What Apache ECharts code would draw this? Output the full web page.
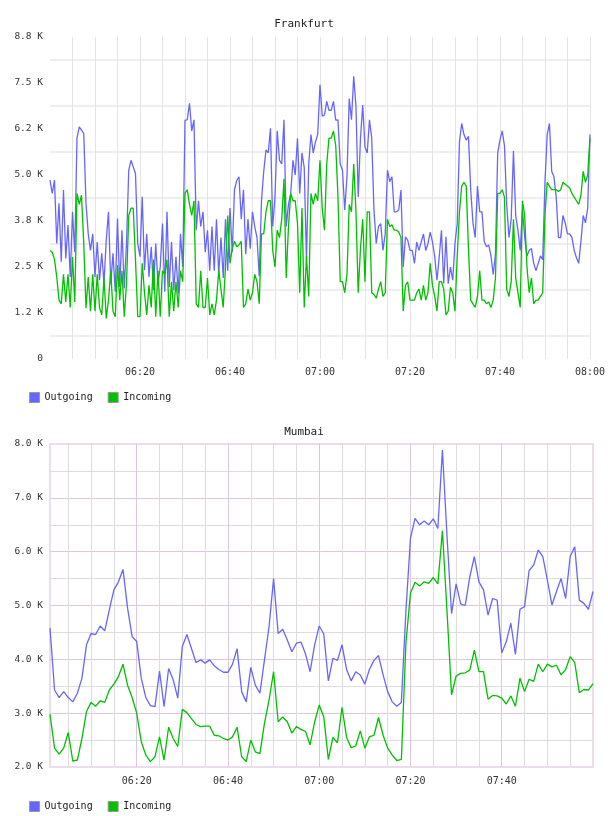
<!DOCTYPE html>
<html>
<head>
<meta charset="utf-8">
<title>Frankfurt / Mumbai traffic</title>
<script src="https://cdn.jsdelivr.net/npm/echarts@6/dist/echarts.min.js"></script>
<style>
  html, body { margin: 0; padding: 0; background: #fff; }
  #main { width: 608px; height: 816px; }
</style>
</head>
<body>
<div id="main"></div>
<script>
const seriesNames = ['Outgoing', 'Incoming'];

// Frankfurt: one sample every 30 s from 06:00 (x in minutes after midnight), values in K
const fraTitle = 'Frankfurt';
const fraStart = 360;
const fraStep = 0.5;
const fraOut = [
  4.86, 4.5, 4.86, 3.14, 4.23, 2.64, 4.59, 2.73, 3.64, 2.23,
  4.0, 2.91, 6.0, 6.31, 6.22, 6.13, 4.23, 3.4, 2.95, 3.4,
  2.23, 3.18, 2.14, 2.87, 2.05, 3.23, 4.0, 2.05, 2.87, 1.83,
  3.82, 1.96, 3.5, 1.92, 3.14, 5.13, 5.4, 5.22, 5.04, 3.14,
  2.78, 4.41, 2.41, 3.4, 2.23, 3.05, 1.87, 3.14, 2.05, 2.5,
  3.68, 1.83, 4.0, 1.96, 3.18, 1.87, 2.78, 1.78, 3.4, 2.5,
  6.49, 6.5, 6.95, 6.2, 6.5, 3.5, 4.3, 3.6, 4.0, 2.9,
  3.5, 2.4, 3.6, 2.4, 3.8, 2.3, 3.3, 2.2, 3.8, 2.4,
  4.1, 2.9, 4.6, 4.85, 4.95, 3.8, 4.6, 2.85, 3.8, 3.0,
  4.0, 3.6, 3.3, 2.25, 4.3, 5.1, 5.68, 5.6, 6.27, 3.6,
  4.4, 6.2, 5.4, 5.3, 6.5, 3.6, 4.2, 4.5, 5.4, 5.0,
  6.0, 4.5, 5.6, 5.2, 2.7, 5.3, 6.1, 5.6, 5.9, 6.1,
  7.45, 6.6, 6.63, 7.0, 6.76, 6.76, 7.0, 6.49, 6.5, 5.3,
  5.13, 4.05, 4.95, 7.08, 6.5, 7.68, 6.86, 4.4, 6.0, 6.9,
  5.77, 5.6, 6.5, 6.0, 4.05, 3.14, 3.6, 3.68, 2.95, 3.4,
  5.13, 4.82, 4.95, 4.0, 4.0, 4.05, 4.59, 2.5, 3.32, 3.23,
  2.95, 2.95, 2.6, 3.18, 2.95, 3.18, 3.4, 2.95, 3.14, 3.45,
  3.18, 2.78, 2.14, 2.78, 3.5, 2.05, 3.32, 2.05, 2.5, 2.14,
  3.14, 3.68, 5.9, 6.4, 6.1, 5.95, 6.05, 4.6, 3.7, 3.3,
  4.7, 4.0, 4.0, 3.2, 3.05, 3.1, 2.8, 2.3, 2.85, 5.6,
  5.95, 6.2, 5.8, 4.2, 3.3, 3.8, 5.65, 3.9, 3.5, 2.95,
  4.05, 3.3, 2.8, 2.95, 3.0, 2.6, 2.4, 2.6, 2.8, 2.7,
  4.8, 6.1, 6.4, 5.1, 4.95, 4.4, 3.3, 3.3, 3.9, 3.7,
  3.4, 3.4, 3.3, 2.95, 2.75, 2.6, 3.2, 3.9, 3.7, 4.1,
  6.1
];
const fraIn = [
  2.95, 2.9, 2.7, 2.23, 1.6, 1.5, 2.3, 1.55, 2.3, 1.4,
  2.77, 1.55, 4.5, 4.2, 4.45, 3.14, 1.38, 2.23, 1.3, 2.3,
  1.3, 2.3, 1.4, 1.2, 2.2, 1.1, 1.6, 2.4, 1.3, 1.15,
  2.55, 1.6, 2.4, 1.15, 2.05, 3.9, 4.1, 4.1, 2.7, 1.15,
  1.15, 2.6, 1.8, 1.2, 2.0, 1.4, 2.7, 1.15, 2.4, 1.15,
  2.4, 2.3, 2.7, 1.15, 2.1, 1.3, 2.1, 1.4, 2.4, 2.1,
  4.5, 4.6, 4.2, 3.9, 4.3, 1.5, 1.4, 2.4, 1.4, 1.4,
  2.2, 1.2, 1.5, 1.2, 1.6, 2.4, 1.9, 1.4, 2.5, 3.9,
  2.6, 3.0, 3.2, 3.05, 3.1, 3.2, 1.4, 1.5, 1.9, 1.6,
  1.8, 2.3, 2.1, 1.5, 3.4, 3.4, 4.0, 4.3, 4.3, 2.95,
  2.5, 3.5, 3.3, 3.8, 4.9, 2.2, 3.6, 4.5, 4.3, 4.3,
  3.7, 1.8, 4.1, 1.4, 2.8, 1.7, 4.5, 4.2, 4.5, 4.3,
  5.4, 4.1, 3.5, 5.3, 6.0, 6.0, 6.2, 5.8, 4.4, 2.1,
  2.1, 1.8, 2.3, 4.2, 4.0, 5.3, 4.0, 1.8, 3.0, 3.8,
  2.1, 4.0, 4.0, 1.8, 1.75, 1.65, 1.9, 2.1, 1.7, 1.8,
  3.8, 3.6, 3.65, 3.5, 3.5, 3.45, 3.3, 1.3, 2.0, 2.1,
  1.6, 1.6, 1.6, 1.8, 1.9, 1.6, 2.0, 1.6, 1.8, 2.6,
  2.0, 1.7, 1.3, 2.1, 2.1, 1.9, 1.2, 1.3, 1.95, 1.8,
  1.3, 2.8, 4.0, 4.7, 4.8, 4.7, 3.0, 1.6, 1.5, 1.4,
  1.7, 2.4, 1.6, 1.6, 1.5, 1.55, 1.4, 1.6, 2.2, 4.5,
  4.5, 4.6, 4.4, 1.9, 1.7, 2.1, 3.8, 2.2, 1.8, 1.4,
  4.3, 3.9, 2.5, 1.8, 2.2, 1.5, 1.6, 1.6, 1.7, 1.8,
  3.9, 4.8, 4.7, 4.6, 4.6, 4.6, 4.55, 4.6, 4.8, 4.75,
  4.7, 4.65, 4.5, 4.4, 4.3, 4.2, 4.45, 5.1, 4.8, 5.0,
  6.0
];
const fraYLabels = ['0', '1.2 K', '2.5 K', '3.8 K', '5.0 K', '6.2 K', '7.5 K', '8.8 K'];
const fraXLabels = ['06:20', '06:40', '07:00', '07:20', '07:40', '08:00'];

// Mumbai: one sample per minute from 06:01, values in K
const mumTitle = 'Mumbai';
const mumStart = 361;
const mumStep = 1;
const mumOut = [
  4.58, 3.43, 3.29, 3.4, 3.29, 3.21, 3.37, 3.65, 4.27, 4.48,
  4.46, 4.62, 4.53, 4.92, 5.29, 5.44, 5.67, 4.95, 4.42, 4.33,
  3.65, 3.29, 3.14, 3.12, 3.78, 3.12, 3.83, 3.62, 3.28, 4.24,
  4.46, 4.2, 3.94, 3.99, 3.93, 3.99, 3.88, 3.81, 3.76, 3.76,
  3.91, 4.2, 3.4, 3.21, 3.85, 3.52, 3.37, 3.99, 4.6, 5.5,
  4.48, 4.56, 4.36, 4.14, 4.3, 4.32, 4.1, 3.77, 4.27, 4.62,
  4.47, 3.6, 4.02, 3.98, 4.27, 3.81, 3.6, 3.77, 3.71, 3.54,
  3.81, 3.98, 4.07, 3.71, 3.4, 3.21, 3.13, 3.2, 4.9, 6.25,
  6.62, 6.5, 6.57, 6.5, 6.61, 6.43, 7.89, 6.3, 4.85, 5.4,
  5.03, 5.0, 5.53, 5.91, 5.44, 5.29, 4.82, 5.13, 5.1, 4.12,
  4.33, 4.67, 4.09, 4.93, 4.98, 5.65, 5.75, 6.03, 5.91, 5.47,
  5.01, 5.26, 5.5, 5.13, 5.91, 6.09, 5.1, 5.04, 4.93, 5.26
];
const mumIn = [
  2.98, 2.35, 2.24, 2.35, 2.64, 2.11, 2.13, 2.53, 3.03, 3.2,
  3.13, 3.23, 3.2, 3.43, 3.54, 3.68, 3.91, 3.52, 3.29, 3.0,
  2.47, 2.22, 2.1, 2.19, 2.56, 2.13, 2.74, 2.53, 2.38, 3.07,
  3.01, 2.9, 2.79, 2.75, 2.76, 2.76, 2.59, 2.58, 2.53, 2.5,
  2.56, 2.74, 2.19, 2.1, 2.5, 2.28, 2.25, 2.81, 3.24, 3.77,
  2.84, 2.93, 2.84, 2.63, 2.75, 2.7, 2.66, 2.41, 2.84, 3.15,
  2.93, 2.14, 2.55, 2.45, 3.11, 2.55, 2.36, 2.39, 2.67, 2.35,
  2.56, 2.59, 2.92, 2.59, 2.35, 2.22, 2.12, 2.14, 4.3, 5.23,
  5.43, 5.36, 5.44, 5.41, 5.52, 5.4, 6.39, 4.9, 3.34, 3.69,
  3.74, 3.75, 3.8, 4.17, 3.77, 3.77, 3.26, 3.33, 3.32, 3.28,
  3.17, 3.32, 3.13, 3.65, 3.4, 3.63, 3.59, 3.91, 3.77, 3.91,
  3.86, 3.89, 3.71, 3.81, 4.05, 3.94, 3.38, 3.44, 3.43, 3.55
];
const mumYLabels = ['2.0 K', '3.0 K', '4.0 K', '5.0 K', '6.0 K', '7.0 K', '8.0 K'];
const mumXLabels = ['06:20', '06:40', '07:00', '07:20', '07:40'];

const colors = ['#6666ff', '#00c000'];
const font = 'DejaVu Sans Mono';
const clear = 'rgba(0,0,0,0)';

function hhmm(v) {
  const h = Math.floor(v / 60);
  const m = Math.round(v - h * 60);
  return String(h).padStart(2, '0') + ':' + String(m).padStart(2, '0');
}
function pairs(start, step, values) {
  return values.map((v, i) => [start + i * step, v]);
}
function stepLabel(labels, base, step) {
  return function (v) {
    const k = (v - base) / step;
    return Math.abs(k - Math.round(k)) < 1e-6 ? (labels[Math.round(k)] || '') : '';
  };
}

// Frankfurt horizontal lines sit half way between the labels
const fraHLines = Array.from({ length: 15 }, (_, i) => (i % 2 ? '#eeeeee' : clear));
// Mumbai: purple every 1 K / 20 min, grey in between, border handled by the grid
const mumMajor = '#dec6de';
const mumMinor = '#dddddd';
const mumHLines = Array.from({ length: 13 }, (_, i) =>
  i === 0 || i === 12 ? clear : (i % 2 ? mumMinor : mumMajor));
const mumVLines = Array.from({ length: 25 }, (_, i) =>
  i === 0 || i === 24 ? clear : (i % 4 ? mumMinor : mumMajor));

const labelStyle = { color: '#333', fontFamily: font, fontSize: 10 };

function lineSeries(name, color, xi, data) {
  return {
    name: name,
    type: 'line',
    xAxisIndex: xi,
    yAxisIndex: xi,
    data: data,
    showSymbol: false,
    symbol: 'none',
    lineStyle: { color: color, width: 1.3 },
    itemStyle: { color: color },
    emphasis: { disabled: true }
  };
}

function legendAt(top) {
  return {
    top: top,
    left: 24,
    icon: 'rect',
    itemWidth: 10,
    itemHeight: 10,
    itemGap: 15,
    data: seriesNames,
    itemStyle: { borderColor: '#999', borderWidth: 1 },
    textStyle: { color: '#222', fontFamily: font, fontSize: 10 }
  };
}

const chart = echarts.init(document.getElementById('main'), null, { renderer: 'canvas' });

const option = {
  animation: false,
  backgroundColor: '#fff',
  title: [
    { text: fraTitle, left: 'center', top: 14,
      textStyle: { fontFamily: font, fontSize: 11, fontWeight: 'normal', color: '#222' } },
    { text: mumTitle, left: 'center', top: 422,
      textStyle: { fontFamily: font, fontSize: 11, fontWeight: 'normal', color: '#222' } }
  ],
  legend: [legendAt(387), legendAt(796)],
  grid: [
    { left: 50, top: 37, width: 541.5, height: 322 },
    { left: 50, top: 444, width: 543, height: 323, show: true,
      borderColor: '#ecdcec', borderWidth: 2, backgroundColor: clear },
    { left: 45.437, top: 444, width: 547.563, height: 323 }
  ],
  xAxis: [
    {
      gridIndex: 0, type: 'value', min: 360, max: 480, interval: 5,
      axisLine: { show: false }, axisTick: { show: false },
      axisLabel: { margin: 8, ...labelStyle,
        formatter: v => (fraXLabels.includes(hhmm(v)) ? hhmm(v) : '') },
      splitLine: { show: true, showMinLine: false, lineStyle: { color: '#e4e4e4', width: 1 } }
    },
    {
      gridIndex: 1, type: 'value', min: 361, max: 480, show: false
    },
    {
      gridIndex: 2, type: 'value', min: 360, max: 480, interval: 5,
      axisLine: { show: false }, axisTick: { show: false },
      axisLabel: { margin: 9, ...labelStyle,
        formatter: v => (mumXLabels.includes(hhmm(v)) ? hhmm(v) : '') },
      splitLine: { show: true, lineStyle: { color: mumVLines, width: 1 } }
    }
  ],
  yAxis: [
    {
      gridIndex: 0, type: 'value', min: 0, max: 8.75, interval: 0.625,
      axisLine: { show: false }, axisTick: { show: false },
      axisLabel: { margin: 7, ...labelStyle, fontSize: 9.5,
        formatter: stepLabel(fraYLabels, 0, 1.25) },
      splitLine: { show: true, lineStyle: { color: fraHLines, width: 2 } }
    },
    {
      gridIndex: 1, type: 'value', min: 2, max: 8, interval: 0.5,
      axisLine: { show: false }, axisTick: { show: false },
      axisLabel: { margin: 7, ...labelStyle, fontSize: 9.5,
        formatter: stepLabel(mumYLabels, 2, 1) },
      splitLine: { show: true, lineStyle: { color: mumHLines, width: 1 } }
    },
    {
      gridIndex: 2, type: 'value', min: 2, max: 8, show: false
    }
  ],
  series: [
    lineSeries(seriesNames[0], colors[0], 0, pairs(fraStart, fraStep, fraOut)),
    lineSeries(seriesNames[1], colors[1], 0, pairs(fraStart, fraStep, fraIn)),
    lineSeries(seriesNames[0], colors[0], 1, pairs(mumStart, mumStep, mumOut)),
    lineSeries(seriesNames[1], colors[1], 1, pairs(mumStart, mumStep, mumIn))
  ]
};

chart.setOption(option);
</script>
</body>
</html>
